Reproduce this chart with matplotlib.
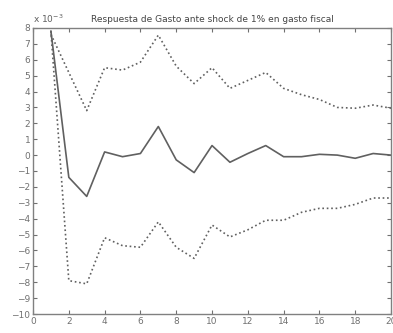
import matplotlib
matplotlib.use("Agg")
import matplotlib.pyplot as plt

# horizon (periods)
periods = list(range(1, 21))

# response of spending, x 10^-3
response = [7.8, -1.4, -2.6, 0.2, -0.1, 0.1, 1.8, -0.3, -1.1, 0.6,
            -0.45, 0.1, 0.6, -0.1, -0.1, 0.05, 0.0, -0.2, 0.1, 0.0]
upper = [7.6, 5.2, 2.8, 5.5, 5.35, 5.85, 7.55, 5.6, 4.5, 5.5,
         4.2, 4.7, 5.2, 4.2, 3.8, 3.5, 3.0, 2.95, 3.15, 2.95]
lower = [7.8, -7.9, -8.1, -5.2, -5.7, -5.8, -4.2, -5.8, -6.5, -4.4,
         -5.15, -4.7, -4.1, -4.1, -3.6, -3.35, -3.35, -3.1, -2.7, -2.7]

xticks = list(range(0, 21, 2))
yticks = list(range(-10, 9))

fig = plt.figure(figsize=(3.93, 3.33), dpi=100)
ax = fig.add_axes([0.084, 0.057, 0.911, 0.859])

grey = "#606060"
ax.plot(periods, response, "-", color=grey, linewidth=1.2)
ax.plot(periods, upper, ":", color=grey, linewidth=1.2)
ax.plot(periods, lower, ":", color=grey, linewidth=1.2)

ax.set_xlim(0, 20)
ax.set_ylim(-10, 8)
ax.set_xticks(xticks)
ax.set_yticks(yticks)
ax.tick_params(direction="in", length=3, labelsize=6.5, colors="#707070",
               top=True, right=True, pad=2)
for s in ax.spines.values():
    s.set_color("#808080")
    s.set_linewidth(1.0)

ax.set_title("Respuesta de Gasto ante shock de 1% en gasto fiscal",
             fontsize=6.5, color="#444444", pad=4)
ax.text(0.0, 1.01, r"x 10$^{-3}$", transform=ax.transAxes, fontsize=6.5,
        color="#606060", ha="left", va="bottom")

fig.savefig("out.png", dpi=100)
